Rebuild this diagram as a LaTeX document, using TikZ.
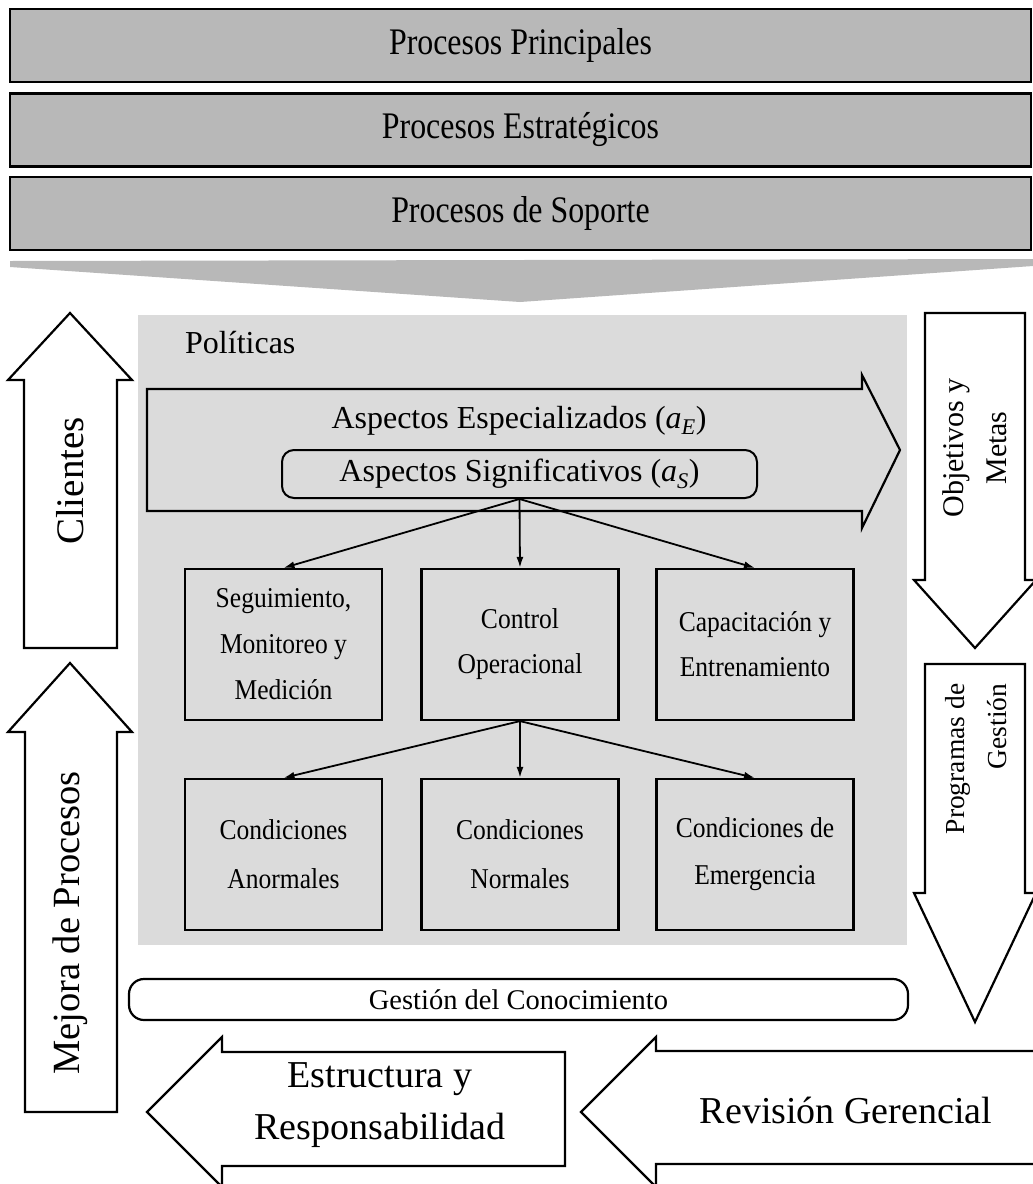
\documentclass[tikz,border=0pt]{standalone}
\usepackage{fontspec}
\setmainfont{Liberation Serif}
\newfontfamily\tallserif[FakeStretch=0.85]{Liberation Serif}
\newfontfamily\boxserif[FakeStretch=0.89]{Liberation Serif}
\usetikzlibrary{arrows.meta}
\definecolor{bargray}{gray}{0.72}
\definecolor{panelgray}{gray}{0.86}
\newcommand{\fsz}[2]{\fontsize{#1}{#2}\selectfont}
\newcommand{\aspsym}[1]{\textit{a}\textsubscript{\textit{#1}}}

\begin{document}
\begin{tikzpicture}[x=1pt,y=-1pt,
  procbar/.style={draw=black, line width=2.6pt, fill=bargray,
    minimum width=1021pt, minimum height=73pt, inner sep=0pt, font=\tallserif\fsz{37.5}{44}},
  block/.style={draw=black, line width=2.2pt, fill=white},
  cell/.style={draw=black, line width=2.2pt, fill=panelgray,
    minimum width=197pt, minimum height=151pt, inner sep=0pt, align=center},
  link/.style={line width=1.8pt, -{Latex[length=11pt,width=7pt]}},
  label/.style={inner sep=0pt}
]
\useasboundingbox (0,0) rectangle (1033,1184);
\clip (0,0) rectangle (1033,1184);
\fill[white] (0,0) rectangle (1033,1184);

% process layers
\node[procbar] (pp) at (520.5,45.5) {Procesos Principales};
\node[procbar] (pe) at (520.5,130) {Procesos Estratégicos};
\node[procbar] (ps) at (520.5,213.5) {Procesos de Soporte};
\fill[bargray] (10,261) -- (1033,259) -- (1033,266) -- (520,302) -- (10,267) -- cycle;

% central panel
\fill[panelgray] (138,315) rectangle (907,945);
\node[label, anchor=base west, font=\fsz{32}{38}] (pol) at (185,353) {Políticas};

% aspects arrow
\draw[line width=2.2pt, fill=panelgray] (147,389) -- (862,389) -- (862,375) -- (900,450)
  -- (862,528) -- (862,511) -- (147,511) -- cycle;
\node[label, anchor=base, font=\fsz{32}{38}] (esp) at (519,428) {Aspectos Especializados (\aspsym{E})};
\node[draw, line width=2pt, fill=panelgray, rounded corners=12pt, minimum width=475pt,
  minimum height=48pt, inner sep=0pt, font=\fsz{32}{38}] (sig) at (519.5,474)
  {Aspectos Significativos (\aspsym{S})};

% activity boxes
\node[cell, font=\boxserif\fsz{28.7}{46}] (seg) at (283.5,644.5) {Seguimiento,\\Monitoreo y\\Medición};
\node[cell, font=\boxserif\fsz{28.7}{45}] (ctl) at (520,644.5) {Control\\Operacional};
\node[cell, font=\boxserif\fsz{28.7}{45}] (cap) at (755,644.5) {Capacitación y\\Entrenamiento};
\node[cell, font=\boxserif\fsz{28.7}{49}] (anor) at (283.5,854.5) {Condiciones\\Anormales};
\node[cell, font=\boxserif\fsz{28.7}{49}] (norm) at (520,854.5) {Condiciones\\Normales};
\node[cell, font=\boxserif\fsz{28.7}{47}] (emer) at (755,854.5) {Condiciones de\\Emergencia};

\draw[link] (sig.south) -- (seg.north);
\draw[link] (sig.south) -- (ctl.north);
\draw[link] (sig.south) -- (cap.north);
\draw[link] (ctl.south) -- (anor.north);
\draw[link] (ctl.south) -- (norm.north);
\draw[link] (ctl.south) -- (emer.north);

% knowledge management bar
\node[draw, line width=2.2pt, rounded corners=15pt, minimum width=779pt, minimum height=41pt,
  inner sep=0pt, font=\fsz{28.5}{34}] (gc) at (518.5,999.5) {Gestión del Conocimiento};

% left block arrows
\draw[block] (24,648) -- (24,380) -- (8,380) -- (70,313) -- (132,380) -- (117,380) -- (117,648) -- cycle;
\node[label, rotate=90, font=\fsz{39}{46}] (cli) at (70,481) {Clientes};
\draw[block] (25,1112) -- (25,732) -- (8,732) -- (70,663) -- (132,732) -- (117,732) -- (117,1112) -- cycle;
\node[label, rotate=90, font=\fsz{38.5}{44}] (mej) at (70,923) {Mejora de Procesos};

% right block arrows
\draw[block] (925,313) -- (1025,313) -- (1025,580) -- (1036,580) -- (975,648) -- (914,580) -- (925,580) -- cycle;
\node[label, rotate=90, align=center, font=\fsz{30}{43}] (obj) at (975,448) {Objetivos y\\Metas};
\draw[block] (925,664) -- (1025,664) -- (1025,893) -- (1036,893) -- (975,1022) -- (914,893) -- (925,893) -- cycle;
\node[label, rotate=90, align=right, font=\fsz{27.5}{42}] (prog) at (976,759) {Programas de\\Gestión};

% bottom block arrows
\draw[block] (565,1052) -- (222,1052) -- (222,1037) -- (147,1112) -- (222,1187) -- (222,1166) -- (565,1166) -- cycle;
\node[label, align=center, font=\fsz{38}{52}] (est) at (380,1105) {Estructura y\\Responsabilidad};
\draw[block] (1040,1051) -- (656,1051) -- (656,1037) -- (581,1112) -- (656,1187) -- (656,1164) -- (1040,1164) -- cycle;
\node[label, anchor=base, font=\fsz{38}{44}] (rev) at (846,1123) {Revisión Gerencial};
\end{tikzpicture}
\end{document}
